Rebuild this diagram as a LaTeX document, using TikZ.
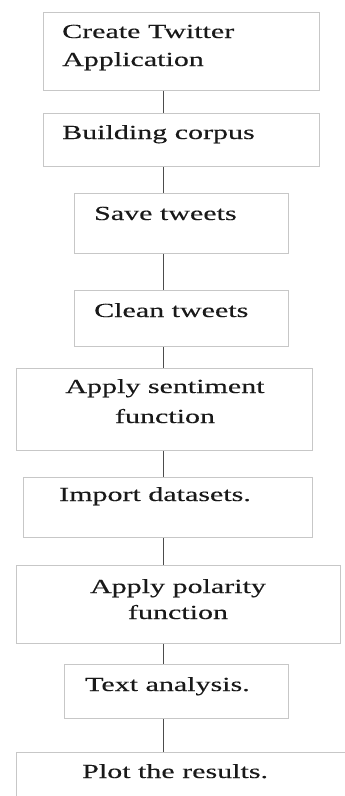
\documentclass[tikz,border=0pt]{standalone}
\usepackage{fontspec}
\setmainfont[FakeStretch=1.5,FakeBold=0.3]{Liberation Serif}
\usepackage{tikz}
\usetikzlibrary{calc,positioning}

\tikzset{
  stepbox/.style={draw=black!22,line width=0.9pt,inner sep=0pt,rectangle},
  link/.style={draw=black!70,line width=0.8pt},
  lbl/.style={inner sep=0pt,text=black!90,font=\fontsize{20}{24}\selectfont}
}

\begin{document}
\begin{tikzpicture}[x=1pt,y=-1pt]
  \clip (0,0) rectangle (345,796);
  \coordinate (spine) at (163,0);
  % boxes: name/left/top/right/bottom
  \foreach \n/\l/\t/\r/\b in {1/43/12/319/90,2/43/113/319/166,3/74/193/288/253,
      4/74/290/288/346,5/16/368/312/450,6/23/477/312/537,7/16/565/340/643,
      8/64/664/288/718,9/16/752/362/830} {
    \node[stepbox,anchor=north west,minimum width={(\r-\l)*1pt},minimum height={(\b-\t)*1pt}] (b\n) at (\l,\t) {};
  }
  \foreach \a/\c in {1/2,2/3,3/4,4/5,5/6,6/7,7/8,8/9}
    \draw[link] (spine |- b\a.south) -- (spine |- b\c.north);
  % labels
  \node[lbl,anchor=base west] (t1a) at (62,38) {Create Twitter};
  \node[lbl,anchor=base west] (t1b) at (62,66) {Application};
  \node[lbl,anchor=base west] (t2) at (62,139) {Building corpus};
  \node[lbl,anchor=base west] (t3) at (94,220) {Save tweets};
  \node[lbl,anchor=base west] (t4) at (94,317) {Clean tweets};
  \node[lbl,anchor=base] (t5a) at (165,393) {Apply sentiment};
  \node[lbl,anchor=base] (t5b) at (165,423) {function};
  \node[lbl,anchor=base west] (t6) at (59,501) {Import datasets.};
  \node[lbl,anchor=base] (t7a) at (178,593) {Apply polarity};
  \node[lbl,anchor=base] (t7b) at (178,619) {function};
  \node[lbl,anchor=base west] (t8) at (85,691) {Text analysis.};
  \node[lbl,anchor=base west] (t9) at (82,778) {Plot the results.};
\end{tikzpicture}
\end{document}
